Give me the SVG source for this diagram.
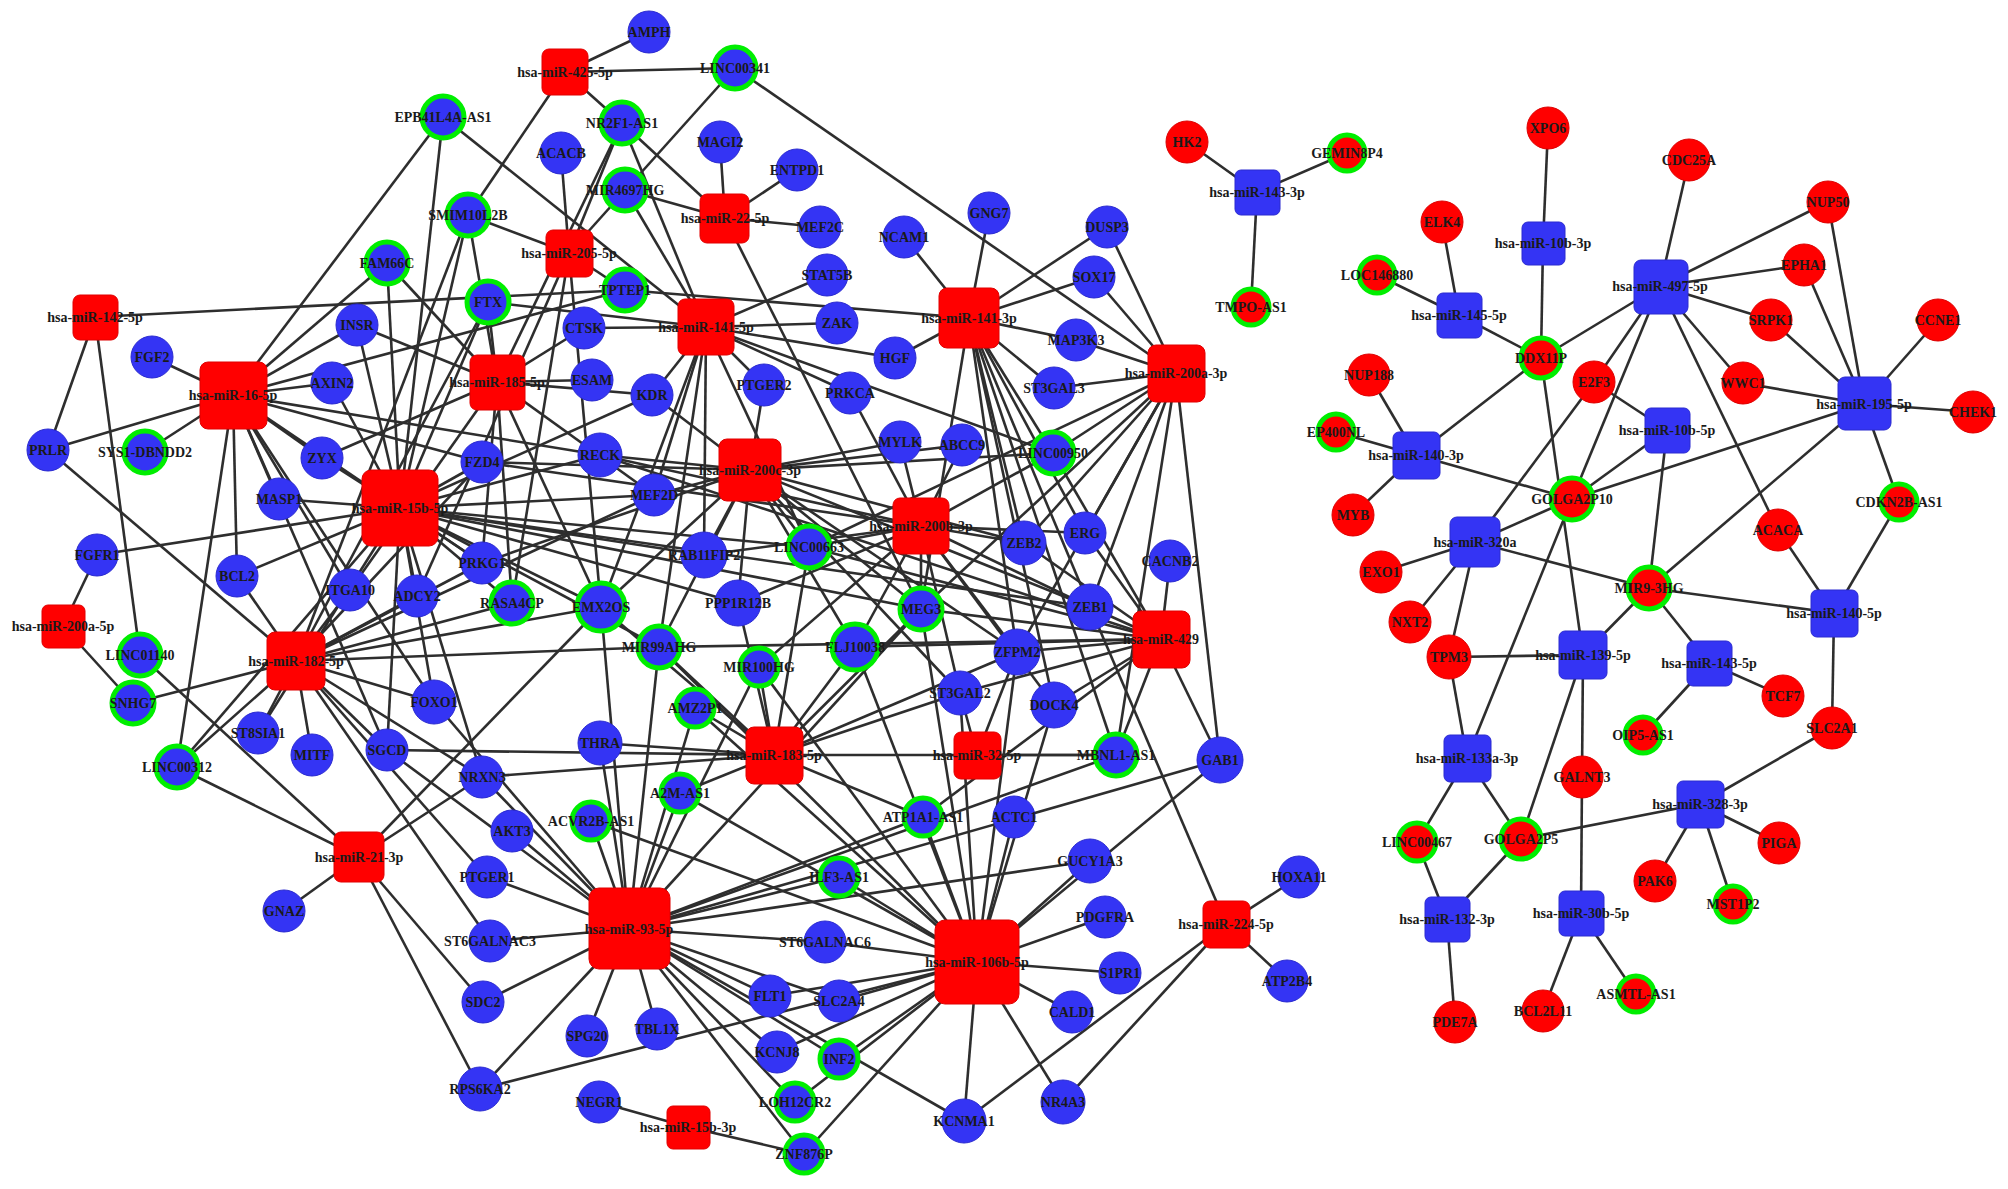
<svg xmlns="http://www.w3.org/2000/svg" width="2008" height="1189" viewBox="0 0 2008 1189">
<style>
.e line{stroke:#2e2e2e;stroke-width:2.6}
.b{fill:#3434f4;stroke:#2a2ad0;stroke-width:1}
.rc{fill:#ff0000;stroke:#dd0000;stroke-width:1}
.g{stroke:#00ee00;stroke-width:5}
.rm{fill:#ff0000;stroke:#e00000;stroke-width:1}
.bm{fill:#3434f4;stroke:#2a2ad0;stroke-width:1}
text{font-family:"Liberation Serif","Times New Roman",serif;font-weight:bold;font-size:14px;fill:#1a1a1a;text-anchor:middle}
</style>
<rect width="2008" height="1189" fill="#ffffff"/>
<g id="connectors" class="e">
<line x1="565" y1="72" x2="649" y2="32"/><line x1="565" y1="72" x2="735" y2="68"/><line x1="565" y1="72" x2="622" y2="123"/><line x1="565" y1="72" x2="468" y2="215"/>
<line x1="725" y1="218" x2="720" y2="142"/><line x1="725" y1="218" x2="797" y2="170"/><line x1="725" y1="218" x2="820" y2="227"/><line x1="725" y1="218" x2="622" y2="123"/><line x1="725" y1="218" x2="625" y2="190"/><line x1="725" y1="218" x2="921" y2="609"/>
<line x1="569" y1="253" x2="561" y2="153"/><line x1="569" y1="253" x2="622" y2="123"/><line x1="569" y1="253" x2="735" y2="68"/><line x1="569" y1="253" x2="468" y2="215"/><line x1="569" y1="253" x2="601" y2="607"/><line x1="569" y1="253" x2="625" y2="290"/><line x1="569" y1="253" x2="417" y2="596"/><line x1="569" y1="253" x2="512" y2="603"/>
<line x1="95" y1="317" x2="625" y2="290"/><line x1="95" y1="317" x2="48" y2="450"/><line x1="95" y1="317" x2="140" y2="655"/>
<line x1="233" y1="395" x2="152" y2="357"/><line x1="233" y1="395" x2="357" y2="325"/><line x1="233" y1="395" x2="332" y2="383"/><line x1="233" y1="395" x2="443" y2="117"/><line x1="233" y1="395" x2="387" y2="263"/><line x1="233" y1="395" x2="48" y2="450"/><line x1="233" y1="395" x2="145" y2="452"/><line x1="233" y1="395" x2="279" y2="499"/><line x1="233" y1="395" x2="237" y2="576"/><line x1="233" y1="395" x2="177" y2="767"/><line x1="233" y1="395" x2="350" y2="590"/><line x1="233" y1="395" x2="387" y2="750"/><line x1="233" y1="395" x2="322" y2="458"/><line x1="233" y1="395" x2="625" y2="290"/><line x1="233" y1="395" x2="482" y2="462"/><line x1="233" y1="395" x2="600" y2="455"/><line x1="233" y1="395" x2="434" y2="702"/><line x1="233" y1="395" x2="482" y2="563"/>
<line x1="497" y1="382" x2="468" y2="215"/><line x1="497" y1="382" x2="387" y2="263"/><line x1="497" y1="382" x2="488" y2="302"/><line x1="497" y1="382" x2="592" y2="380"/><line x1="497" y1="382" x2="584" y2="328"/><line x1="497" y1="382" x2="622" y2="123"/><line x1="497" y1="382" x2="322" y2="458"/><line x1="497" y1="382" x2="482" y2="563"/><line x1="497" y1="382" x2="512" y2="603"/><line x1="497" y1="382" x2="601" y2="607"/><line x1="497" y1="382" x2="350" y2="590"/><line x1="497" y1="382" x2="654" y2="495"/><line x1="497" y1="382" x2="652" y2="395"/><line x1="497" y1="382" x2="357" y2="325"/>
<line x1="706" y1="327" x2="443" y2="117"/><line x1="706" y1="327" x2="622" y2="123"/><line x1="706" y1="327" x2="625" y2="190"/><line x1="706" y1="327" x2="827" y2="275"/><line x1="706" y1="327" x2="837" y2="323"/><line x1="706" y1="327" x2="895" y2="358"/><line x1="706" y1="327" x2="850" y2="393"/><line x1="706" y1="327" x2="764" y2="385"/><line x1="706" y1="327" x2="652" y2="395"/><line x1="706" y1="327" x2="654" y2="495"/><line x1="706" y1="327" x2="704" y2="555"/><line x1="706" y1="327" x2="809" y2="547"/><line x1="706" y1="327" x2="488" y2="302"/><line x1="706" y1="327" x2="584" y2="328"/><line x1="706" y1="327" x2="601" y2="607"/><line x1="706" y1="327" x2="1053" y2="453"/><line x1="706" y1="327" x2="659" y2="647"/>
<line x1="969" y1="318" x2="904" y2="237"/><line x1="969" y1="318" x2="989" y2="213"/><line x1="969" y1="318" x2="895" y2="358"/><line x1="969" y1="318" x2="625" y2="290"/><line x1="969" y1="318" x2="1107" y2="227"/><line x1="969" y1="318" x2="1094" y2="277"/><line x1="969" y1="318" x2="1076" y2="340"/><line x1="969" y1="318" x2="1054" y2="388"/><line x1="969" y1="318" x2="1053" y2="453"/><line x1="969" y1="318" x2="1085" y2="533"/><line x1="969" y1="318" x2="1090" y2="607"/><line x1="969" y1="318" x2="1024" y2="543"/><line x1="969" y1="318" x2="1116" y2="755"/><line x1="969" y1="318" x2="1017" y2="652"/><line x1="969" y1="318" x2="921" y2="609"/><line x1="969" y1="318" x2="1054" y2="705"/>
<line x1="1176" y1="373" x2="735" y2="68"/><line x1="1176" y1="373" x2="1107" y2="227"/><line x1="1176" y1="373" x2="1094" y2="277"/><line x1="1176" y1="373" x2="1076" y2="340"/><line x1="1176" y1="373" x2="1054" y2="388"/><line x1="1176" y1="373" x2="1053" y2="453"/><line x1="1176" y1="373" x2="1085" y2="533"/><line x1="1176" y1="373" x2="1090" y2="607"/><line x1="1176" y1="373" x2="1116" y2="755"/><line x1="1176" y1="373" x2="1220" y2="760"/><line x1="1176" y1="373" x2="1024" y2="543"/><line x1="1176" y1="373" x2="921" y2="609"/><line x1="1176" y1="373" x2="809" y2="547"/><line x1="1176" y1="373" x2="1017" y2="652"/>
<line x1="400" y1="508" x2="443" y2="117"/><line x1="400" y1="508" x2="468" y2="215"/><line x1="400" y1="508" x2="387" y2="263"/><line x1="400" y1="508" x2="357" y2="325"/><line x1="400" y1="508" x2="332" y2="383"/><line x1="400" y1="508" x2="322" y2="458"/><line x1="400" y1="508" x2="279" y2="499"/><line x1="400" y1="508" x2="482" y2="462"/><line x1="400" y1="508" x2="600" y2="455"/><line x1="400" y1="508" x2="482" y2="563"/><line x1="400" y1="508" x2="417" y2="596"/><line x1="400" y1="508" x2="97" y2="555"/><line x1="400" y1="508" x2="237" y2="576"/><line x1="400" y1="508" x2="387" y2="750"/><line x1="400" y1="508" x2="434" y2="702"/><line x1="400" y1="508" x2="482" y2="777"/><line x1="400" y1="508" x2="512" y2="603"/><line x1="400" y1="508" x2="601" y2="607"/><line x1="400" y1="508" x2="654" y2="495"/><line x1="400" y1="508" x2="704" y2="555"/><line x1="400" y1="508" x2="738" y2="603"/><line x1="400" y1="508" x2="809" y2="547"/><line x1="400" y1="508" x2="921" y2="609"/><line x1="400" y1="508" x2="1090" y2="607"/><line x1="400" y1="508" x2="652" y2="395"/><line x1="400" y1="508" x2="659" y2="647"/><line x1="400" y1="508" x2="177" y2="767"/><line x1="400" y1="508" x2="258" y2="733"/><line x1="400" y1="508" x2="488" y2="302"/>
<line x1="750" y1="470" x2="600" y2="455"/><line x1="750" y1="470" x2="654" y2="495"/><line x1="750" y1="470" x2="900" y2="442"/><line x1="750" y1="470" x2="962" y2="445"/><line x1="750" y1="470" x2="764" y2="385"/><line x1="750" y1="470" x2="652" y2="395"/><line x1="750" y1="470" x2="704" y2="555"/><line x1="750" y1="470" x2="809" y2="547"/><line x1="750" y1="470" x2="738" y2="603"/><line x1="750" y1="470" x2="921" y2="609"/><line x1="750" y1="470" x2="1024" y2="543"/><line x1="750" y1="470" x2="1090" y2="607"/><line x1="750" y1="470" x2="1053" y2="453"/><line x1="750" y1="470" x2="855" y2="647"/><line x1="750" y1="470" x2="960" y2="693"/><line x1="750" y1="470" x2="601" y2="607"/><line x1="750" y1="470" x2="659" y2="647"/><line x1="750" y1="470" x2="1017" y2="652"/><line x1="750" y1="470" x2="482" y2="563"/><line x1="750" y1="470" x2="482" y2="462"/>
<line x1="921" y1="526" x2="900" y2="442"/><line x1="921" y1="526" x2="962" y2="445"/><line x1="921" y1="526" x2="1053" y2="453"/><line x1="921" y1="526" x2="809" y2="547"/><line x1="921" y1="526" x2="704" y2="555"/><line x1="921" y1="526" x2="921" y2="609"/><line x1="921" y1="526" x2="1024" y2="543"/><line x1="921" y1="526" x2="1090" y2="607"/><line x1="921" y1="526" x2="1017" y2="652"/><line x1="921" y1="526" x2="960" y2="693"/><line x1="921" y1="526" x2="1085" y2="533"/><line x1="921" y1="526" x2="600" y2="455"/><line x1="921" y1="526" x2="738" y2="603"/><line x1="921" y1="526" x2="855" y2="647"/><line x1="921" y1="526" x2="1054" y2="705"/><line x1="921" y1="526" x2="759" y2="667"/><line x1="921" y1="526" x2="850" y2="393"/><line x1="921" y1="526" x2="482" y2="462"/>
<line x1="63" y1="626" x2="97" y2="555"/><line x1="63" y1="626" x2="133" y2="703"/>
<line x1="296" y1="661" x2="237" y2="576"/><line x1="296" y1="661" x2="133" y2="703"/><line x1="296" y1="661" x2="258" y2="733"/><line x1="296" y1="661" x2="312" y2="755"/><line x1="296" y1="661" x2="387" y2="750"/><line x1="296" y1="661" x2="350" y2="590"/><line x1="296" y1="661" x2="417" y2="596"/><line x1="296" y1="661" x2="482" y2="563"/><line x1="296" y1="661" x2="512" y2="603"/><line x1="296" y1="661" x2="482" y2="462"/><line x1="296" y1="661" x2="659" y2="647"/><line x1="296" y1="661" x2="48" y2="450"/><line x1="296" y1="661" x2="177" y2="767"/><line x1="296" y1="661" x2="468" y2="215"/><line x1="296" y1="661" x2="482" y2="777"/><line x1="296" y1="661" x2="434" y2="702"/><line x1="296" y1="661" x2="601" y2="607"/><line x1="296" y1="661" x2="654" y2="495"/><line x1="296" y1="661" x2="490" y2="941"/><line x1="296" y1="661" x2="487" y2="877"/><line x1="296" y1="661" x2="488" y2="302"/>
<line x1="1161" y1="639" x2="1170" y2="561"/><line x1="1161" y1="639" x2="1090" y2="607"/><line x1="1161" y1="639" x2="1024" y2="543"/><line x1="1161" y1="639" x2="1017" y2="652"/><line x1="1161" y1="639" x2="1054" y2="705"/><line x1="1161" y1="639" x2="1220" y2="760"/><line x1="1161" y1="639" x2="1116" y2="755"/><line x1="1161" y1="639" x2="1085" y2="533"/><line x1="1161" y1="639" x2="1053" y2="453"/><line x1="1161" y1="639" x2="921" y2="609"/><line x1="1161" y1="639" x2="855" y2="647"/><line x1="1161" y1="639" x2="960" y2="693"/><line x1="1161" y1="639" x2="809" y2="547"/><line x1="1161" y1="639" x2="659" y2="647"/><line x1="1161" y1="639" x2="923" y2="817"/><line x1="1161" y1="639" x2="600" y2="455"/>
<line x1="774" y1="755" x2="695" y2="708"/><line x1="774" y1="755" x2="659" y2="647"/><line x1="774" y1="755" x2="759" y2="667"/><line x1="774" y1="755" x2="738" y2="603"/><line x1="774" y1="755" x2="855" y2="647"/><line x1="774" y1="755" x2="921" y2="609"/><line x1="774" y1="755" x2="1017" y2="652"/><line x1="774" y1="755" x2="600" y2="743"/><line x1="774" y1="755" x2="1116" y2="755"/><line x1="774" y1="755" x2="680" y2="793"/><line x1="774" y1="755" x2="923" y2="817"/><line x1="774" y1="755" x2="601" y2="607"/><line x1="774" y1="755" x2="960" y2="693"/><line x1="774" y1="755" x2="809" y2="547"/><line x1="774" y1="755" x2="482" y2="777"/><line x1="774" y1="755" x2="387" y2="750"/>
<line x1="977" y1="755" x2="1116" y2="755"/><line x1="977" y1="755" x2="1017" y2="652"/><line x1="977" y1="755" x2="960" y2="693"/>
<line x1="359" y1="857" x2="284" y2="911"/><line x1="359" y1="857" x2="177" y2="767"/><line x1="359" y1="857" x2="140" y2="655"/><line x1="359" y1="857" x2="483" y2="1002"/><line x1="359" y1="857" x2="480" y2="1089"/><line x1="359" y1="857" x2="482" y2="777"/><line x1="359" y1="857" x2="601" y2="607"/>
<line x1="629" y1="929" x2="512" y2="831"/><line x1="629" y1="929" x2="591" y2="821"/><line x1="629" y1="929" x2="680" y2="793"/><line x1="629" y1="929" x2="487" y2="877"/><line x1="629" y1="929" x2="490" y2="941"/><line x1="629" y1="929" x2="483" y2="1002"/><line x1="629" y1="929" x2="480" y2="1089"/><line x1="629" y1="929" x2="587" y2="1036"/><line x1="629" y1="929" x2="657" y2="1029"/><line x1="629" y1="929" x2="839" y2="877"/><line x1="629" y1="929" x2="825" y2="942"/><line x1="629" y1="929" x2="770" y2="996"/><line x1="629" y1="929" x2="839" y2="1001"/><line x1="629" y1="929" x2="777" y2="1052"/><line x1="629" y1="929" x2="839" y2="1059"/><line x1="629" y1="929" x2="795" y2="1102"/><line x1="629" y1="929" x2="804" y2="1154"/><line x1="629" y1="929" x2="964" y2="1121"/><line x1="629" y1="929" x2="482" y2="777"/><line x1="629" y1="929" x2="600" y2="743"/><line x1="629" y1="929" x2="695" y2="708"/><line x1="629" y1="929" x2="659" y2="647"/><line x1="629" y1="929" x2="601" y2="607"/><line x1="629" y1="929" x2="387" y2="750"/><line x1="629" y1="929" x2="434" y2="702"/><line x1="629" y1="929" x2="759" y2="667"/><line x1="629" y1="929" x2="923" y2="817"/><line x1="629" y1="929" x2="1090" y2="861"/><line x1="629" y1="929" x2="1220" y2="760"/><line x1="629" y1="929" x2="1116" y2="755"/><line x1="629" y1="929" x2="921" y2="609"/>
<line x1="977" y1="962" x2="923" y2="817"/><line x1="977" y1="962" x2="839" y2="877"/><line x1="977" y1="962" x2="825" y2="942"/><line x1="977" y1="962" x2="839" y2="1001"/><line x1="977" y1="962" x2="770" y2="996"/><line x1="977" y1="962" x2="839" y2="1059"/><line x1="977" y1="962" x2="795" y2="1102"/><line x1="977" y1="962" x2="804" y2="1154"/><line x1="977" y1="962" x2="964" y2="1121"/><line x1="977" y1="962" x2="1063" y2="1102"/><line x1="977" y1="962" x2="1072" y2="1012"/><line x1="977" y1="962" x2="1120" y2="973"/><line x1="977" y1="962" x2="1105" y2="917"/><line x1="977" y1="962" x2="1090" y2="861"/><line x1="977" y1="962" x2="1014" y2="817"/><line x1="977" y1="962" x2="480" y2="1089"/><line x1="977" y1="962" x2="855" y2="647"/><line x1="977" y1="962" x2="759" y2="667"/><line x1="977" y1="962" x2="921" y2="609"/><line x1="977" y1="962" x2="1017" y2="652"/><line x1="977" y1="962" x2="960" y2="693"/><line x1="977" y1="962" x2="695" y2="708"/><line x1="977" y1="962" x2="659" y2="647"/><line x1="977" y1="962" x2="1220" y2="760"/><line x1="977" y1="962" x2="680" y2="793"/><line x1="977" y1="962" x2="591" y2="821"/><line x1="977" y1="962" x2="777" y2="1052"/><line x1="977" y1="962" x2="1054" y2="705"/>
<line x1="1226" y1="924" x2="1299" y2="877"/><line x1="1226" y1="924" x2="1287" y2="981"/><line x1="1226" y1="924" x2="1063" y2="1102"/><line x1="1226" y1="924" x2="964" y2="1121"/><line x1="1226" y1="924" x2="1090" y2="607"/>
<line x1="688" y1="1127" x2="599" y2="1102"/><line x1="688" y1="1127" x2="804" y2="1154"/>
<line x1="1257" y1="192" x2="1187" y2="142"/><line x1="1257" y1="192" x2="1347" y2="153"/><line x1="1257" y1="192" x2="1251" y2="307"/>
<line x1="1543" y1="243" x2="1548" y2="128"/><line x1="1543" y1="243" x2="1541" y2="358"/>
<line x1="1459" y1="315" x2="1442" y2="222"/><line x1="1459" y1="315" x2="1377" y2="275"/><line x1="1459" y1="315" x2="1541" y2="358"/>
<line x1="1660" y1="286" x2="1689" y2="160"/><line x1="1660" y1="286" x2="1828" y2="202"/><line x1="1660" y1="286" x2="1804" y2="265"/><line x1="1660" y1="286" x2="1771" y2="320"/><line x1="1660" y1="286" x2="1743" y2="383"/><line x1="1660" y1="286" x2="1541" y2="358"/><line x1="1660" y1="286" x2="1594" y2="382"/><line x1="1660" y1="286" x2="1572" y2="499"/><line x1="1660" y1="286" x2="1778" y2="530"/>
<line x1="1864" y1="404" x2="1973" y2="412"/><line x1="1864" y1="404" x2="1899" y2="502"/><line x1="1864" y1="404" x2="1572" y2="499"/><line x1="1864" y1="404" x2="1649" y2="588"/><line x1="1864" y1="404" x2="1743" y2="383"/><line x1="1864" y1="404" x2="1771" y2="320"/><line x1="1864" y1="404" x2="1804" y2="265"/><line x1="1864" y1="404" x2="1828" y2="202"/><line x1="1864" y1="404" x2="1938" y2="320"/>
<line x1="1416" y1="455" x2="1336" y2="432"/><line x1="1416" y1="455" x2="1353" y2="515"/><line x1="1416" y1="455" x2="1369" y2="375"/><line x1="1416" y1="455" x2="1541" y2="358"/><line x1="1416" y1="455" x2="1572" y2="499"/>
<line x1="1667" y1="430" x2="1572" y2="499"/><line x1="1667" y1="430" x2="1649" y2="588"/><line x1="1667" y1="430" x2="1594" y2="382"/>
<line x1="1475" y1="542" x2="1381" y2="572"/><line x1="1475" y1="542" x2="1410" y2="622"/><line x1="1475" y1="542" x2="1449" y2="657"/><line x1="1475" y1="542" x2="1649" y2="588"/><line x1="1475" y1="542" x2="1572" y2="499"/><line x1="1475" y1="542" x2="1594" y2="382"/>
<line x1="1834" y1="613" x2="1778" y2="530"/><line x1="1834" y1="613" x2="1899" y2="502"/><line x1="1834" y1="613" x2="1832" y2="728"/><line x1="1834" y1="613" x2="1649" y2="588"/>
<line x1="1583" y1="655" x2="1541" y2="358"/><line x1="1583" y1="655" x2="1649" y2="588"/><line x1="1583" y1="655" x2="1449" y2="657"/><line x1="1583" y1="655" x2="1582" y2="777"/><line x1="1583" y1="655" x2="1521" y2="839"/>
<line x1="1709" y1="663" x2="1649" y2="588"/><line x1="1709" y1="663" x2="1783" y2="696"/><line x1="1709" y1="663" x2="1643" y2="735"/>
<line x1="1467" y1="758" x2="1449" y2="657"/><line x1="1467" y1="758" x2="1572" y2="499"/><line x1="1467" y1="758" x2="1417" y2="842"/><line x1="1467" y1="758" x2="1521" y2="839"/>
<line x1="1700" y1="804" x2="1832" y2="728"/><line x1="1700" y1="804" x2="1521" y2="839"/><line x1="1700" y1="804" x2="1655" y2="881"/><line x1="1700" y1="804" x2="1733" y2="904"/><line x1="1700" y1="804" x2="1779" y2="843"/>
<line x1="1581" y1="913" x2="1582" y2="777"/><line x1="1581" y1="913" x2="1543" y2="1011"/><line x1="1581" y1="913" x2="1636" y2="994"/>
<line x1="1447" y1="919" x2="1417" y2="842"/><line x1="1447" y1="919" x2="1521" y2="839"/><line x1="1447" y1="919" x2="1455" y2="1022"/>
</g>
<g id="nodes">
<g id="AMPH"><circle cx="649" cy="32" r="21" class="b"/><text x="649" y="37">AMPH</text></g>
<g id="LINC00341"><circle cx="735" cy="68" r="21" class="b g"/><text x="735" y="73">LINC00341</text></g>
<g id="EPB41L4A-AS1"><circle cx="443" cy="117" r="21" class="b g"/><text x="443" y="122">EPB41L4A-AS1</text></g>
<g id="NR2F1-AS1"><circle cx="622" cy="123" r="21" class="b g"/><text x="622" y="128">NR2F1-AS1</text></g>
<g id="ACACB"><circle cx="561" cy="153" r="21" class="b"/><text x="561" y="158">ACACB</text></g>
<g id="MAGI2"><circle cx="720" cy="142" r="21" class="b"/><text x="720" y="147">MAGI2</text></g>
<g id="ENTPD1"><circle cx="797" cy="170" r="21" class="b"/><text x="797" y="175">ENTPD1</text></g>
<g id="MIR4697HG"><circle cx="625" cy="190" r="21" class="b g"/><text x="625" y="195">MIR4697HG</text></g>
<g id="MEF2C"><circle cx="820" cy="227" r="21" class="b"/><text x="820" y="232">MEF2C</text></g>
<g id="SMIM10L2B"><circle cx="468" cy="215" r="21" class="b g"/><text x="468" y="220">SMIM10L2B</text></g>
<g id="NCAM1"><circle cx="904" cy="237" r="21" class="b"/><text x="904" y="242">NCAM1</text></g>
<g id="GNG7"><circle cx="989" cy="213" r="21" class="b"/><text x="989" y="218">GNG7</text></g>
<g id="DUSP3"><circle cx="1107" cy="227" r="21" class="b"/><text x="1107" y="232">DUSP3</text></g>
<g id="FAM66C"><circle cx="387" cy="263" r="21" class="b g"/><text x="387" y="268">FAM66C</text></g>
<g id="STAT5B"><circle cx="827" cy="275" r="21" class="b"/><text x="827" y="280">STAT5B</text></g>
<g id="TPTEP1"><circle cx="625" cy="290" r="21" class="b g"/><text x="625" y="295">TPTEP1</text></g>
<g id="SOX17"><circle cx="1094" cy="277" r="21" class="b"/><text x="1094" y="282">SOX17</text></g>
<g id="FTX"><circle cx="488" cy="302" r="21" class="b g"/><text x="488" y="307">FTX</text></g>
<g id="ZAK"><circle cx="837" cy="323" r="21" class="b"/><text x="837" y="328">ZAK</text></g>
<g id="MAP3K3"><circle cx="1076" cy="340" r="21" class="b"/><text x="1076" y="345">MAP3K3</text></g>
<g id="CTSK"><circle cx="584" cy="328" r="21" class="b"/><text x="584" y="333">CTSK</text></g>
<g id="INSR"><circle cx="357" cy="325" r="21" class="b"/><text x="357" y="330">INSR</text></g>
<g id="FGF2"><circle cx="152" cy="357" r="21" class="b"/><text x="152" y="362">FGF2</text></g>
<g id="AXIN2"><circle cx="332" cy="383" r="21" class="b"/><text x="332" y="388">AXIN2</text></g>
<g id="HGF"><circle cx="895" cy="358" r="21" class="b"/><text x="895" y="363">HGF</text></g>
<g id="ESAM"><circle cx="592" cy="380" r="21" class="b"/><text x="592" y="385">ESAM</text></g>
<g id="PTGER2"><circle cx="764" cy="385" r="21" class="b"/><text x="764" y="390">PTGER2</text></g>
<g id="ST3GAL3"><circle cx="1054" cy="388" r="21" class="b"/><text x="1054" y="393">ST3GAL3</text></g>
<g id="PRKCA"><circle cx="850" cy="393" r="21" class="b"/><text x="850" y="398">PRKCA</text></g>
<g id="KDR"><circle cx="652" cy="395" r="21" class="b"/><text x="652" y="400">KDR</text></g>
<g id="PRLR"><circle cx="48" cy="450" r="21" class="b"/><text x="48" y="455">PRLR</text></g>
<g id="SYS1-DBNDD2"><circle cx="145" cy="452" r="21" class="b g"/><text x="145" y="457">SYS1-DBNDD2</text></g>
<g id="ZYX"><circle cx="322" cy="458" r="21" class="b"/><text x="322" y="463">ZYX</text></g>
<g id="FZD4"><circle cx="482" cy="462" r="21" class="b"/><text x="482" y="467">FZD4</text></g>
<g id="RECK"><circle cx="600" cy="455" r="22" class="b"/><text x="600" y="460">RECK</text></g>
<g id="MYLK"><circle cx="900" cy="442" r="21" class="b"/><text x="900" y="447">MYLK</text></g>
<g id="ABCC9"><circle cx="962" cy="445" r="21" class="b"/><text x="962" y="450">ABCC9</text></g>
<g id="LINC00950"><circle cx="1053" cy="453" r="21" class="b g"/><text x="1053" y="458">LINC00950</text></g>
<g id="MASP1"><circle cx="279" cy="499" r="21" class="b"/><text x="279" y="504">MASP1</text></g>
<g id="MEF2D"><circle cx="654" cy="495" r="21" class="b"/><text x="654" y="500">MEF2D</text></g>
<g id="ERG"><circle cx="1085" cy="533" r="21" class="b"/><text x="1085" y="538">ERG</text></g>
<g id="FGFR1"><circle cx="97" cy="555" r="21" class="b"/><text x="97" y="560">FGFR1</text></g>
<g id="RAB11FIP2"><circle cx="704" cy="555" r="23" class="b"/><text x="704" y="560">RAB11FIP2</text></g>
<g id="LINC00663"><circle cx="809" cy="547" r="21" class="b g"/><text x="809" y="552">LINC00663</text></g>
<g id="ZEB2"><circle cx="1024" cy="543" r="22" class="b"/><text x="1024" y="548">ZEB2</text></g>
<g id="BCL2"><circle cx="237" cy="576" r="21" class="b"/><text x="237" y="581">BCL2</text></g>
<g id="ITGA10"><circle cx="350" cy="590" r="21" class="b"/><text x="350" y="595">ITGA10</text></g>
<g id="ADCY2"><circle cx="417" cy="596" r="21" class="b"/><text x="417" y="601">ADCY2</text></g>
<g id="PRKG1"><circle cx="482" cy="563" r="21" class="b"/><text x="482" y="568">PRKG1</text></g>
<g id="PPP1R12B"><circle cx="738" cy="603" r="23" class="b"/><text x="738" y="608">PPP1R12B</text></g>
<g id="CACNB2"><circle cx="1170" cy="561" r="21" class="b"/><text x="1170" y="566">CACNB2</text></g>
<g id="ZEB1"><circle cx="1090" cy="607" r="23" class="b"/><text x="1090" y="612">ZEB1</text></g>
<g id="RASA4CP"><circle cx="512" cy="603" r="21" class="b g"/><text x="512" y="608">RASA4CP</text></g>
<g id="EMX2OS"><circle cx="601" cy="607" r="24" class="b g"/><text x="601" y="612">EMX2OS</text></g>
<g id="MEG3"><circle cx="921" cy="609" r="21" class="b g"/><text x="921" y="614">MEG3</text></g>
<g id="LINC01140"><circle cx="140" cy="655" r="21" class="b g"/><text x="140" y="660">LINC01140</text></g>
<g id="MIR99AHG"><circle cx="659" cy="647" r="21" class="b g"/><text x="659" y="652">MIR99AHG</text></g>
<g id="FLJ10038"><circle cx="855" cy="647" r="23" class="b g"/><text x="855" y="652">FLJ10038</text></g>
<g id="ZFPM2"><circle cx="1017" cy="652" r="23" class="b"/><text x="1017" y="657">ZFPM2</text></g>
<g id="SNHG7"><circle cx="133" cy="703" r="21" class="b g"/><text x="133" y="708">SNHG7</text></g>
<g id="MIR100HG"><circle cx="759" cy="667" r="19" class="b g"/><text x="759" y="672">MIR100HG</text></g>
<g id="ST3GAL2"><circle cx="960" cy="693" r="22" class="b"/><text x="960" y="698">ST3GAL2</text></g>
<g id="AMZ2P1"><circle cx="695" cy="708" r="19" class="b g"/><text x="695" y="713">AMZ2P1</text></g>
<g id="DOCK4"><circle cx="1054" cy="705" r="23" class="b"/><text x="1054" y="710">DOCK4</text></g>
<g id="ST8SIA1"><circle cx="258" cy="733" r="21" class="b"/><text x="258" y="738">ST8SIA1</text></g>
<g id="MITF"><circle cx="312" cy="755" r="21" class="b"/><text x="312" y="760">MITF</text></g>
<g id="SGCD"><circle cx="387" cy="750" r="21" class="b"/><text x="387" y="755">SGCD</text></g>
<g id="FOXO1"><circle cx="434" cy="702" r="22" class="b"/><text x="434" y="707">FOXO1</text></g>
<g id="THRA"><circle cx="600" cy="743" r="22" class="b"/><text x="600" y="748">THRA</text></g>
<g id="MBNL1-AS1"><circle cx="1116" cy="755" r="21" class="b g"/><text x="1116" y="760">MBNL1-AS1</text></g>
<g id="GAB1"><circle cx="1220" cy="760" r="23" class="b"/><text x="1220" y="765">GAB1</text></g>
<g id="LINC00312"><circle cx="177" cy="767" r="21" class="b g"/><text x="177" y="772">LINC00312</text></g>
<g id="NRXN3"><circle cx="482" cy="777" r="21" class="b"/><text x="482" y="782">NRXN3</text></g>
<g id="A2M-AS1"><circle cx="680" cy="793" r="19" class="b g"/><text x="680" y="798">A2M-AS1</text></g>
<g id="AKT3"><circle cx="512" cy="831" r="21" class="b"/><text x="512" y="836">AKT3</text></g>
<g id="ACVR2B-AS1"><circle cx="591" cy="821" r="19" class="b g"/><text x="591" y="826">ACVR2B-AS1</text></g>
<g id="ATP1A1-AS1"><circle cx="923" cy="817" r="19" class="b g"/><text x="923" y="822">ATP1A1-AS1</text></g>
<g id="ACTC1"><circle cx="1014" cy="817" r="21" class="b"/><text x="1014" y="822">ACTC1</text></g>
<g id="ILF3-AS1"><circle cx="839" cy="877" r="19" class="b g"/><text x="839" y="882">ILF3-AS1</text></g>
<g id="GUCY1A3"><circle cx="1090" cy="861" r="22" class="b"/><text x="1090" y="866">GUCY1A3</text></g>
<g id="HOXA11"><circle cx="1299" cy="877" r="21" class="b"/><text x="1299" y="882">HOXA11</text></g>
<g id="GNAZ"><circle cx="284" cy="911" r="21" class="b"/><text x="284" y="916">GNAZ</text></g>
<g id="PTGER1"><circle cx="487" cy="877" r="21" class="b"/><text x="487" y="882">PTGER1</text></g>
<g id="PDGFRA"><circle cx="1105" cy="917" r="21" class="b"/><text x="1105" y="922">PDGFRA</text></g>
<g id="ST6GALNAC3"><circle cx="490" cy="941" r="21" class="b"/><text x="490" y="946">ST6GALNAC3</text></g>
<g id="ST6GALNAC6"><circle cx="825" cy="942" r="21" class="b"/><text x="825" y="947">ST6GALNAC6</text></g>
<g id="S1PR1"><circle cx="1120" cy="973" r="21" class="b"/><text x="1120" y="978">S1PR1</text></g>
<g id="ATP2B4"><circle cx="1287" cy="981" r="21" class="b"/><text x="1287" y="986">ATP2B4</text></g>
<g id="FLT1"><circle cx="770" cy="996" r="21" class="b"/><text x="770" y="1001">FLT1</text></g>
<g id="SLC2A4"><circle cx="839" cy="1001" r="21" class="b"/><text x="839" y="1006">SLC2A4</text></g>
<g id="CALD1"><circle cx="1072" cy="1012" r="21" class="b"/><text x="1072" y="1017">CALD1</text></g>
<g id="SDC2"><circle cx="483" cy="1002" r="21" class="b"/><text x="483" y="1007">SDC2</text></g>
<g id="SPG20"><circle cx="587" cy="1036" r="21" class="b"/><text x="587" y="1041">SPG20</text></g>
<g id="TBL1X"><circle cx="657" cy="1029" r="21" class="b"/><text x="657" y="1034">TBL1X</text></g>
<g id="KCNJ8"><circle cx="777" cy="1052" r="21" class="b"/><text x="777" y="1057">KCNJ8</text></g>
<g id="INF2"><circle cx="839" cy="1059" r="19" class="b g"/><text x="839" y="1064">INF2</text></g>
<g id="RPS6KA2"><circle cx="480" cy="1089" r="22" class="b"/><text x="480" y="1094">RPS6KA2</text></g>
<g id="LOH12CR2"><circle cx="795" cy="1102" r="19" class="b g"/><text x="795" y="1107">LOH12CR2</text></g>
<g id="NR4A3"><circle cx="1063" cy="1102" r="22" class="b"/><text x="1063" y="1107">NR4A3</text></g>
<g id="NEGR1"><circle cx="599" cy="1102" r="21" class="b"/><text x="599" y="1107">NEGR1</text></g>
<g id="KCNMA1"><circle cx="964" cy="1121" r="22" class="b"/><text x="964" y="1126">KCNMA1</text></g>
<g id="ZNF876P"><circle cx="804" cy="1154" r="19" class="b g"/><text x="804" y="1159">ZNF876P</text></g>
<g id="hsa-miR-425-5p"><rect x="542" y="49" width="46" height="46" rx="7" class="rm"/><text x="565" y="77">hsa-miR-425-5p</text></g>
<g id="hsa-miR-22-5p"><rect x="700" y="194" width="49" height="49" rx="7" class="rm"/><text x="725" y="223">hsa-miR-22-5p</text></g>
<g id="hsa-miR-205-5p"><rect x="546" y="230" width="47" height="47" rx="7" class="rm"/><text x="569" y="258">hsa-miR-205-5p</text></g>
<g id="hsa-miR-142-5p"><rect x="73" y="295" width="45" height="45" rx="7" class="rm"/><text x="95" y="322">hsa-miR-142-5p</text></g>
<g id="hsa-miR-141-5p"><rect x="678" y="299" width="56" height="56" rx="7" class="rm"/><text x="706" y="332">hsa-miR-141-5p</text></g>
<g id="hsa-miR-141-3p"><rect x="939" y="288" width="60" height="60" rx="8" class="rm"/><text x="969" y="323">hsa-miR-141-3p</text></g>
<g id="hsa-miR-16-5p"><rect x="200" y="362" width="67" height="67" rx="8" class="rm"/><text x="233" y="400">hsa-miR-16-5p</text></g>
<g id="hsa-miR-185-5p"><rect x="470" y="355" width="55" height="55" rx="7" class="rm"/><text x="497" y="387">hsa-miR-185-5p</text></g>
<g id="hsa-miR-200a-3p"><rect x="1148" y="345" width="57" height="57" rx="8" class="rm"/><text x="1176" y="378">hsa-miR-200a-3p</text></g>
<g id="hsa-miR-15b-5p"><rect x="362" y="470" width="76" height="76" rx="9" class="rm"/><text x="400" y="513">hsa-miR-15b-5p</text></g>
<g id="hsa-miR-200c-3p"><rect x="719" y="439" width="62" height="62" rx="8" class="rm"/><text x="750" y="475">hsa-miR-200c-3p</text></g>
<g id="hsa-miR-200b-3p"><rect x="893" y="498" width="56" height="56" rx="7" class="rm"/><text x="921" y="531">hsa-miR-200b-3p</text></g>
<g id="hsa-miR-200a-5p"><rect x="42" y="605" width="43" height="43" rx="6" class="rm"/><text x="63" y="631">hsa-miR-200a-5p</text></g>
<g id="hsa-miR-182-5p"><rect x="267" y="632" width="58" height="58" rx="8" class="rm"/><text x="296" y="666">hsa-miR-182-5p</text></g>
<g id="hsa-miR-429"><rect x="1133" y="611" width="57" height="57" rx="8" class="rm"/><text x="1161" y="644">hsa-miR-429</text></g>
<g id="hsa-miR-183-5p"><rect x="746" y="727" width="57" height="57" rx="8" class="rm"/><text x="774" y="760">hsa-miR-183-5p</text></g>
<g id="hsa-miR-32-5p"><rect x="954" y="732" width="47" height="47" rx="7" class="rm"/><text x="977" y="760">hsa-miR-32-5p</text></g>
<g id="hsa-miR-21-3p"><rect x="334" y="832" width="50" height="50" rx="7" class="rm"/><text x="359" y="862">hsa-miR-21-3p</text></g>
<g id="hsa-miR-93-5p"><rect x="589" y="888" width="81" height="81" rx="10" class="rm"/><text x="629" y="934">hsa-miR-93-5p</text></g>
<g id="hsa-miR-106b-5p"><rect x="935" y="920" width="84" height="84" rx="10" class="rm"/><text x="977" y="967">hsa-miR-106b-5p</text></g>
<g id="hsa-miR-224-5p"><rect x="1203" y="901" width="47" height="47" rx="7" class="rm"/><text x="1226" y="929">hsa-miR-224-5p</text></g>
<g id="hsa-miR-15b-3p"><rect x="667" y="1106" width="43" height="43" rx="6" class="rm"/><text x="688" y="1132">hsa-miR-15b-3p</text></g>
<g id="HK2"><circle cx="1187" cy="142" r="21" class="rc"/><text x="1187" y="147">HK2</text></g>
<g id="GEMIN8P4"><circle cx="1347" cy="153" r="18" class="rc g"/><text x="1347" y="158">GEMIN8P4</text></g>
<g id="TMPO-AS1"><circle cx="1251" cy="307" r="18" class="rc g"/><text x="1251" y="312">TMPO-AS1</text></g>
<g id="XPO6"><circle cx="1548" cy="128" r="21" class="rc"/><text x="1548" y="133">XPO6</text></g>
<g id="CDC25A"><circle cx="1689" cy="160" r="21" class="rc"/><text x="1689" y="165">CDC25A</text></g>
<g id="NUP50"><circle cx="1828" cy="202" r="21" class="rc"/><text x="1828" y="207">NUP50</text></g>
<g id="EPHA1"><circle cx="1804" cy="265" r="21" class="rc"/><text x="1804" y="270">EPHA1</text></g>
<g id="SRPK1"><circle cx="1771" cy="320" r="21" class="rc"/><text x="1771" y="325">SRPK1</text></g>
<g id="CCNE1"><circle cx="1938" cy="320" r="21" class="rc"/><text x="1938" y="325">CCNE1</text></g>
<g id="ELK4"><circle cx="1442" cy="222" r="21" class="rc"/><text x="1442" y="227">ELK4</text></g>
<g id="LOC146880"><circle cx="1377" cy="275" r="18" class="rc g"/><text x="1377" y="280">LOC146880</text></g>
<g id="NUP188"><circle cx="1369" cy="375" r="21" class="rc"/><text x="1369" y="380">NUP188</text></g>
<g id="DDX11P"><circle cx="1541" cy="358" r="20" class="rc g"/><text x="1541" y="363">DDX11P</text></g>
<g id="E2F3"><circle cx="1594" cy="382" r="21" class="rc"/><text x="1594" y="387">E2F3</text></g>
<g id="WWC1"><circle cx="1743" cy="383" r="21" class="rc"/><text x="1743" y="388">WWC1</text></g>
<g id="CHEK1"><circle cx="1973" cy="412" r="21" class="rc"/><text x="1973" y="417">CHEK1</text></g>
<g id="EP400NL"><circle cx="1336" cy="432" r="18" class="rc g"/><text x="1336" y="437">EP400NL</text></g>
<g id="MYB"><circle cx="1353" cy="515" r="21" class="rc"/><text x="1353" y="520">MYB</text></g>
<g id="GOLGA2P10"><circle cx="1572" cy="499" r="21" class="rc g"/><text x="1572" y="504">GOLGA2P10</text></g>
<g id="CDKN2B-AS1"><circle cx="1899" cy="502" r="18" class="rc g"/><text x="1899" y="507">CDKN2B-AS1</text></g>
<g id="ACACA"><circle cx="1778" cy="530" r="21" class="rc"/><text x="1778" y="535">ACACA</text></g>
<g id="EXO1"><circle cx="1381" cy="572" r="21" class="rc"/><text x="1381" y="577">EXO1</text></g>
<g id="MIR9-3HG"><circle cx="1649" cy="588" r="21" class="rc g"/><text x="1649" y="593">MIR9-3HG</text></g>
<g id="NXT2"><circle cx="1410" cy="622" r="21" class="rc"/><text x="1410" y="627">NXT2</text></g>
<g id="TPM3"><circle cx="1449" cy="657" r="22" class="rc"/><text x="1449" y="662">TPM3</text></g>
<g id="TCF7"><circle cx="1783" cy="696" r="21" class="rc"/><text x="1783" y="701">TCF7</text></g>
<g id="SLC2A1"><circle cx="1832" cy="728" r="21" class="rc"/><text x="1832" y="733">SLC2A1</text></g>
<g id="OIP5-AS1"><circle cx="1643" cy="735" r="18" class="rc g"/><text x="1643" y="740">OIP5-AS1</text></g>
<g id="GALNT3"><circle cx="1582" cy="777" r="21" class="rc"/><text x="1582" y="782">GALNT3</text></g>
<g id="LINC00467"><circle cx="1417" cy="842" r="19" class="rc g"/><text x="1417" y="847">LINC00467</text></g>
<g id="GOLGA2P5"><circle cx="1521" cy="839" r="20" class="rc g"/><text x="1521" y="844">GOLGA2P5</text></g>
<g id="PIGA"><circle cx="1779" cy="843" r="21" class="rc"/><text x="1779" y="848">PIGA</text></g>
<g id="PAK6"><circle cx="1655" cy="881" r="21" class="rc"/><text x="1655" y="886">PAK6</text></g>
<g id="MST1P2"><circle cx="1733" cy="904" r="18" class="rc g"/><text x="1733" y="909">MST1P2</text></g>
<g id="PDE7A"><circle cx="1455" cy="1022" r="21" class="rc"/><text x="1455" y="1027">PDE7A</text></g>
<g id="ASMTL-AS1"><circle cx="1636" cy="994" r="18" class="rc g"/><text x="1636" y="999">ASMTL-AS1</text></g>
<g id="BCL2L11"><circle cx="1543" cy="1011" r="21" class="rc"/><text x="1543" y="1016">BCL2L11</text></g>
<g id="hsa-miR-143-3p"><rect x="1235" y="170" width="45" height="45" rx="6" class="bm"/><text x="1257" y="197">hsa-miR-143-3p</text></g>
<g id="hsa-miR-10b-3p"><rect x="1522" y="222" width="43" height="43" rx="6" class="bm"/><text x="1543" y="248">hsa-miR-10b-3p</text></g>
<g id="hsa-miR-145-5p"><rect x="1437" y="293" width="45" height="45" rx="6" class="bm"/><text x="1459" y="320">hsa-miR-145-5p</text></g>
<g id="hsa-miR-497-5p"><rect x="1634" y="260" width="54" height="54" rx="7" class="bm"/><text x="1660" y="291">hsa-miR-497-5p</text></g>
<g id="hsa-miR-195-5p"><rect x="1838" y="377" width="53" height="53" rx="7" class="bm"/><text x="1864" y="409">hsa-miR-195-5p</text></g>
<g id="hsa-miR-140-3p"><rect x="1393" y="432" width="47" height="47" rx="6" class="bm"/><text x="1416" y="460">hsa-miR-140-3p</text></g>
<g id="hsa-miR-10b-5p"><rect x="1645" y="408" width="45" height="45" rx="6" class="bm"/><text x="1667" y="435">hsa-miR-10b-5p</text></g>
<g id="hsa-miR-320a"><rect x="1450" y="517" width="50" height="50" rx="7" class="bm"/><text x="1475" y="547">hsa-miR-320a</text></g>
<g id="hsa-miR-140-5p"><rect x="1811" y="590" width="47" height="47" rx="6" class="bm"/><text x="1834" y="618">hsa-miR-140-5p</text></g>
<g id="hsa-miR-139-5p"><rect x="1559" y="631" width="48" height="48" rx="6" class="bm"/><text x="1583" y="660">hsa-miR-139-5p</text></g>
<g id="hsa-miR-143-5p"><rect x="1687" y="641" width="45" height="45" rx="6" class="bm"/><text x="1709" y="668">hsa-miR-143-5p</text></g>
<g id="hsa-miR-133a-3p"><rect x="1444" y="735" width="47" height="47" rx="6" class="bm"/><text x="1467" y="763">hsa-miR-133a-3p</text></g>
<g id="hsa-miR-328-3p"><rect x="1677" y="781" width="47" height="47" rx="6" class="bm"/><text x="1700" y="809">hsa-miR-328-3p</text></g>
<g id="hsa-miR-132-3p"><rect x="1425" y="897" width="45" height="45" rx="6" class="bm"/><text x="1447" y="924">hsa-miR-132-3p</text></g>
<g id="hsa-miR-30b-5p"><rect x="1559" y="891" width="45" height="45" rx="6" class="bm"/><text x="1581" y="918">hsa-miR-30b-5p</text></g>
</g>
</svg>
